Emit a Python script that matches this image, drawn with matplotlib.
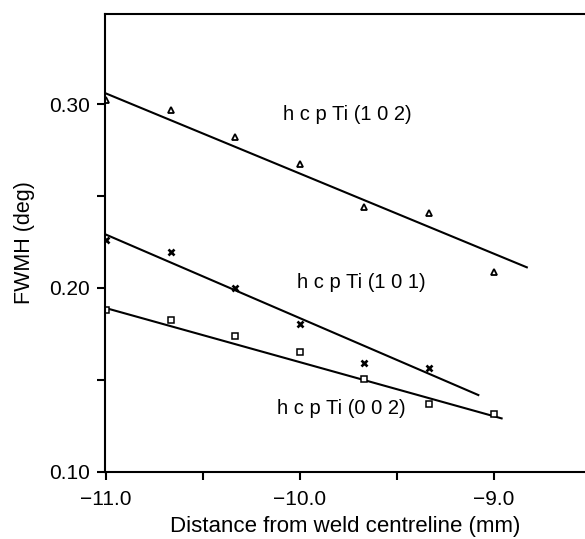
import numpy as np
import matplotlib
matplotlib.use('Agg')
import matplotlib.pyplot as plt
from matplotlib.ticker import MultipleLocator

plt.rcParams['font.family'] = ['Liberation Sans', 'DejaVu Sans']

# ------------------------- 数据 -------------------------
x_pts = [-11.0, -10.667, -10.333, -10.0, -9.667, -9.333, -9.0]

fwhm_102 = [0.302, 0.297, 0.282, 0.2675, 0.244, 0.241, 0.2085]
fwhm_101 = [0.226, 0.2197, 0.200, 0.1804, 0.1592, 0.1563]
fwhm_002 = [0.1882, 0.1824, 0.174, 0.1651, 0.1504, 0.1368, 0.1314]

# 拟合直线端点
line_102_x = [-11.0, -8.83]
line_102_y = [0.3058, 0.2112]
line_101_x = [-11.0, -9.08]
line_101_y = [0.229, 0.1417]
line_002_x = [-11.0, -8.96]
line_002_y = [0.189, 0.129]

labels = ['h c p Ti (1 0 2)', 'h c p Ti (1 0 1)', 'h c p Ti (0 0 2)']
label_x = [-10.088, -10.015, -10.119]
label_y = [0.2942, 0.2032, 0.1346]

# ------------------------- 绘图 -------------------------
fig = plt.figure(figsize=(5.85, 5.39), dpi=100)
ax = fig.add_axes([0.1795, 0.1249, 0.8205, 0.849])

lw = 1.5
ax.plot(line_102_x, line_102_y, color='black', lw=lw)
ax.plot(line_101_x, line_101_y, color='black', lw=lw)
ax.plot(line_002_x, line_002_y, color='black', lw=lw)

ax.plot(x_pts, fwhm_102, ls='none', marker='^', ms=4.8, mfc='white', mec='black', mew=1.3)
ax.plot(x_pts[:len(fwhm_101)], fwhm_101, ls='none', marker='x', ms=4.8, color='black', mew=1.9)
ax.plot(x_pts, fwhm_002, ls='none', marker='s', ms=4.8, mfc='white', mec='black', mew=1.1)

for t, tx, ty in zip(labels, label_x, label_y):
    ax.text(tx, ty, t, fontsize=14.5, ha='left', va='center')

ax.set_xlim(-11.005, -8.53)
ax.set_ylim(0.10, 0.349)

ax.xaxis.set_major_locator(MultipleLocator(1.0))
ax.xaxis.set_minor_locator(MultipleLocator(0.5))
ax.yaxis.set_major_locator(MultipleLocator(0.10))
ax.yaxis.set_minor_locator(MultipleLocator(0.05))
ax.xaxis.set_major_formatter(plt.FuncFormatter(lambda v, p: f'{v:.1f}'.replace('-', '\u2212')))
ax.yaxis.set_major_formatter(plt.FuncFormatter(lambda v, p: f'{v:.2f}'))

ax.tick_params(which='both', direction='out', length=6, width=1.5, labelsize=15)
ax.tick_params(axis='x', which='major', pad=7)
ax.tick_params(axis='y', which='major', pad=5)

for s in ['left', 'bottom', 'top']:
    ax.spines[s].set_linewidth(1.5)
ax.spines['right'].set_visible(False)

ax.set_xlabel('Distance from weld centreline (mm)', fontsize=16, labelpad=5)
ax.set_ylabel('FWMH (deg)', fontsize=15.5, labelpad=10)

fig.savefig('out.png', dpi=100)
